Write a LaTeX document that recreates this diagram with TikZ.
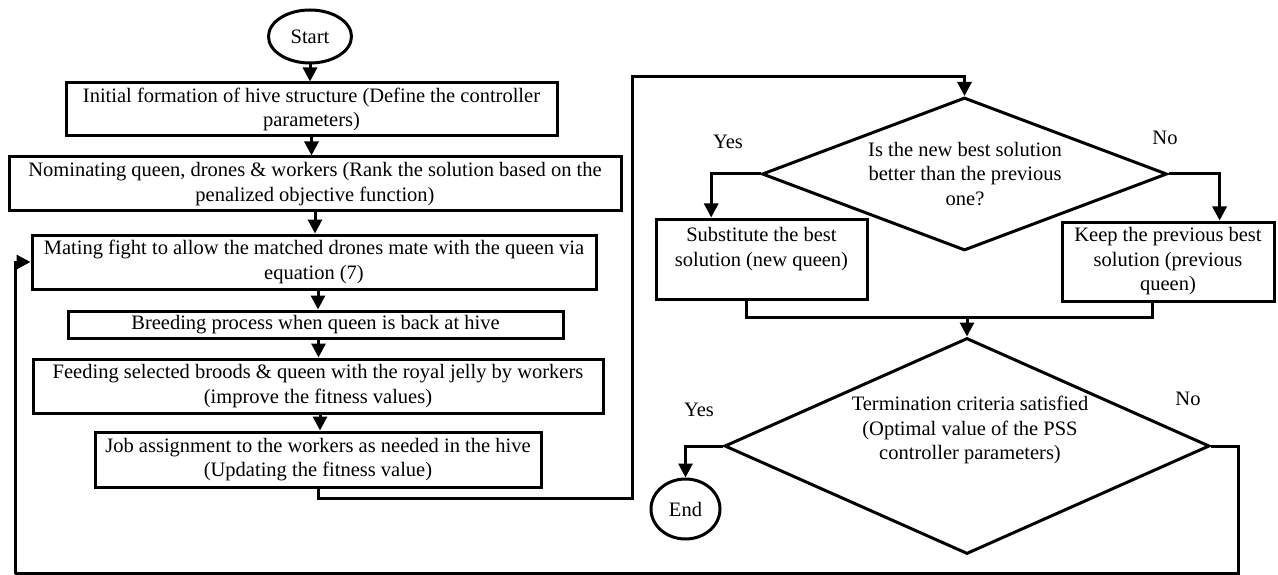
\documentclass[tikz,border=0pt]{standalone}
\usepackage{fontspec}
\setmainfont{Liberation Serif}
\usetikzlibrary{shapes.geometric,arrows.meta,calc}
\begin{document}
\begin{tikzpicture}[x=1pt,y=-1pt,
  every node/.style={font=\fontsize{20.5}{24.5}\selectfont},
  procbox/.style={draw,line width=3pt,inner sep=0pt,align=center},
  dec/.style={draw,diamond,line width=3pt,inner sep=0pt,aspect=1},
  term/.style={draw,ellipse,line width=3pt,inner sep=0pt},
  conn/.style={line width=3pt},
  arr/.style={conn,-{Triangle[length=14pt,width=14pt]}},
  lbl/.style={inner sep=0pt,align=center}]
\useasboundingbox (0,0) rectangle (1278,575);

% terminals
\node[term,minimum width=83pt,minimum height=53pt] (start) at (310,36.5) {Start};
\node[term,minimum width=69pt,minimum height=60pt] (end) at (685.5,509) {End};

% process boxes (left column)
\node[procbox,minimum width=491pt,minimum height=53pt] (b1) at (311.5,109.5)
  {Initial formation of hive structure (Define the controller\\parameters)};
\node[procbox,minimum width=612pt,minimum height=54pt] (b2) at (315,184)
  {Nominating queen, drones \& workers (Rank the solution based on the\\penalized objective function)};
\node[procbox,minimum width=564pt,minimum height=54pt] (b3) at (314,262)
  {Mating fight to allow the matched drones mate with the queen via\\equation (7)};
\node[procbox,minimum width=495pt,minimum height=27pt] (b4) at (315.5,324.5)
  {Breeding process when queen is back at hive};
\node[procbox,minimum width=570pt,minimum height=54pt] (b5) at (318,386)
  {Feeding selected broods \& queen with the royal jelly by workers\\(improve the fitness values)};
\node[procbox,minimum width=446pt,minimum height=55pt] (b6) at (318,459.5)
  {Job assignment to the workers as needed in the hive\\(Updating the fitness value)};

% right column
\node[dec,minimum width=405pt,minimum height=153pt] (d1) at (964.5,174) {};
\node[lbl] (d1t) at (965,174) {Is the new best solution\\better than the previous\\one?};
\node[procbox,minimum width=211pt,minimum height=80pt] (s) at (761.5,259)
  {Substitute the best\\solution (new queen)\\\mbox{}};
\node[procbox,minimum width=212pt,minimum height=79pt] (k) at (1168,261.5)
  {Keep the previous best\\solution (previous\\queen)};
\node[dec,minimum width=485pt,minimum height=216pt] (d2) at (967,446) {};
\node[lbl] (d2t) at (970,430) {Termination criteria satisfied\\(Optimal value of the PSS\\controller parameters)};

% labels
\node[lbl] (y1) at (728,142) {Yes};
\node[lbl] (n1) at (1165,138) {No};
\node[lbl] (y2) at (699,410) {Yes};
\node[lbl] (n2) at (1188,399) {No};

% helper coordinates
\coordinate (loopA) at (632,498);
\coordinate (loopB) at (964.5,77);
\coordinate (join) at (967,317);
\coordinate (loopC) at (1238,573.5);
\coordinate (loopD) at (15,573.5);
\coordinate (o34) at ($(b3.south)+(4,0)$);
\coordinate (o45) at ($(b4.south)+(3,0)$);
\coordinate (o56) at ($(b5.south)+(2,0)$);
\coordinate (sIn) at ($(s.north west)!0.265!(s.north east)$);
\coordinate (kIn) at ($(k.north west)!0.74!(k.north east)$);
\coordinate (sOut) at ($(s.south west)!0.43!(s.south east)$);
\coordinate (kOut) at ($(k.south west)!0.43!(k.south east)$);

% main chain
\draw[arr] (start.south) -- (start.south |- b1.north);
\draw[arr] (b1.south) -- (b1.south |- b2.north);
\draw[arr] (b2.south) -- (b2.south |- b3.north);
\draw[arr] (o34) -- (o34 |- b4.north);
\draw[arr] (o45) -- (o45 |- b5.north);
\draw[arr] (o56) -- (o56 |- b6.north);
\draw[arr] (b6.south) |- (loopA) |- (loopB) -- (d1.north);

% decision 1
\draw[arr] (d1.west) -| (sIn);
\draw[arr] (d1.east) -| (kIn);
\draw[conn] (sOut) |- (join);
\draw[conn] (kOut) |- (join);
\draw[arr] (join) -- (d2.north);

% decision 2
\draw[arr] (d2.west) -| (end.north);
\draw[conn] (d2.east) -| (loopC) -- (loopD);
\draw[arr] (loopD) |- (b3.west);
\end{tikzpicture}
\end{document}
